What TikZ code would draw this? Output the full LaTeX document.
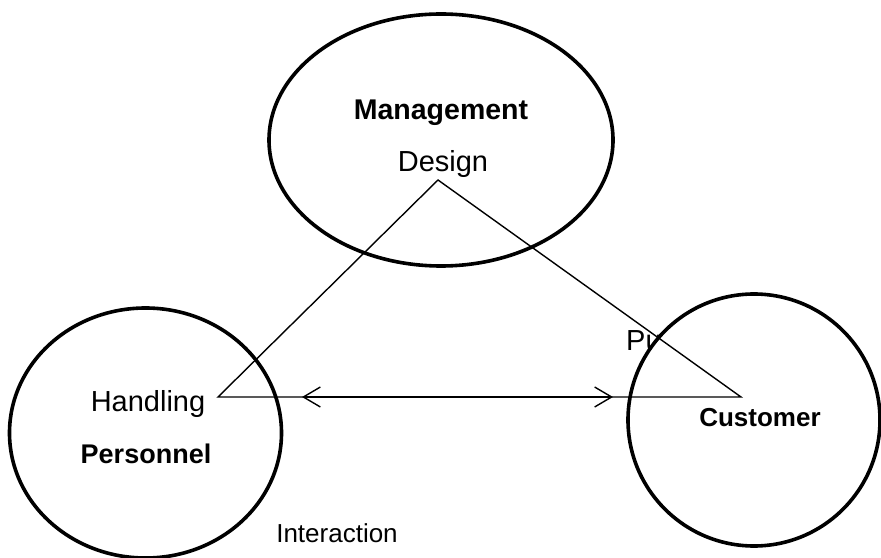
\documentclass[tikz,border=0pt]{standalone}
\usepackage{fontspec}
\setmainfont{Liberation Sans}
\usetikzlibrary{shapes.geometric, arrows.meta}
\tikzstyle{party} = [ellipse, draw=black, line width=3.6pt, fill=white, inner sep=0pt]
\tikzstyle{plain} = [inner sep=0pt, anchor=base, font=\fontsize{29}{34}\selectfont]
\tikzstyle{heading} = [inner sep=0pt, anchor=base, font=\bfseries\fontsize{27}{32}\selectfont]
\tikzstyle{edge} = [line width=1.4pt, line join=miter]
\tikzstyle{arrow} = [line width=1.4pt, {Straight Barb[length=17pt,width=20pt,line width=1.4pt]}-{Straight Barb[length=17pt,width=20pt,line width=1.4pt]}]

\begin{document}
\begin{tikzpicture}[x=1pt, y=1pt]
            \useasboundingbox (0,0) rectangle (881,557);
            \node (pu) [plain, anchor=base west] at (626,206) {Pu};

            \node (mgmt) [party, minimum width=344pt, minimum height=252pt] at (441,417) {};
            \node (pers) [party, minimum width=272pt, minimum height=250pt] at (145.5,124) {};
            \node (cust) [party, minimum width=252pt, minimum height=252pt] at (754,137) {};

            \node (mgmtlabel) [heading, font=\bfseries\fontsize{28.5}{33}\selectfont] at (441,437) {Management};
            \node (design) [plain] at (443,385) {Design};
            \node (handling) [plain] at (148,145) {Handling};
            \node (perslabel) [heading] at (146,93) {Personnel};
            \node (custlabel) [heading, font=\bfseries\fontsize{26}{31}\selectfont] at (760,130) {Customer};
            \node (interaction) [plain, font=\fontsize{26}{31}\selectfont] at (337,14) {Interaction};

            \coordinate (apex) at (438,377);
            \coordinate (left) at (218,160);
            \coordinate (right) at (741,160);
            \coordinate (tipl) at (302,160);
            \coordinate (tipr) at (613,160);

            \draw [edge] (apex) -- (left) -- (right) -- cycle;
            \draw [arrow] (tipl) -- (tipr);
\end{tikzpicture}
\end{document}
